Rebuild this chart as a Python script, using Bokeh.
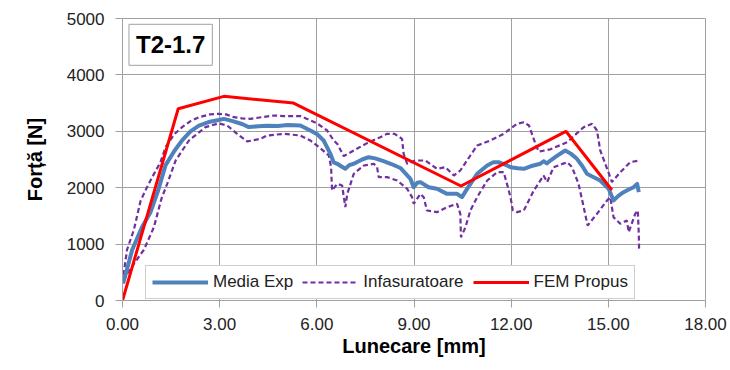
from bokeh.plotting import figure
from bokeh.models import (Range1d, FixedTicker, NumeralTickFormatter, Legend, LegendItem, Label)
from bokeh.embed import file_html
from bokeh.resources import INLINE

# ---- data ----
x_ticks = [0, 3, 6, 9, 12, 15, 18]
y_ticks = [0, 1000, 2000, 3000, 4000, 5000]

media_x = [0.02, 0.3, 0.6, 0.86, 1.1, 1.33, 1.6, 1.84, 2.1, 2.36, 2.7, 2.97, 3.13, 3.4, 3.69, 3.9, 4.2, 4.47, 4.8, 5.1,
           5.49, 5.8, 6.01, 6.21, 6.42, 6.52, 6.63, 6.75, 6.88, 7.0, 7.14, 7.4, 7.6, 7.8, 8.06, 8.3, 8.58, 8.89, 8.99, 9.1,
           9.2, 9.45, 9.71, 10.02, 10.33, 10.48, 10.64, 10.95, 11.26, 11.45, 11.61, 11.87, 11.98, 12.2, 12.39, 12.6, 12.9,
           13.0, 13.1, 13.21, 13.4, 13.67, 13.85, 14.03, 14.2, 14.34, 14.5, 14.75, 15.01, 15.16, 15.3, 15.47, 15.6, 15.78,
           15.89, 15.94]
media_y = [300, 900, 1300, 1560, 1950, 2400, 2650, 2840, 3000, 3100, 3170, 3200, 3220, 3180, 3130, 3075, 3090, 3100, 3095, 3110,
           3103, 3014, 2950, 2837, 2600, 2450, 2424, 2380, 2335, 2400, 2424, 2500, 2541, 2520, 2470, 2420, 2350, 2157, 2009, 2090,
           2098, 2009, 1980, 1891, 1891, 1832, 1980, 2246, 2394, 2450, 2453, 2394, 2364, 2345, 2335, 2380, 2424,
           2470, 2430, 2482, 2560, 2660, 2600, 2512, 2380, 2246, 2200, 2128, 1980, 1773, 1850, 1920, 1960, 2009,
           2068, 1920]

upper_x = [0.03, 0.14, 0.35, 0.56, 0.75, 0.92, 1.17, 1.33, 1.6, 1.84, 2.1, 2.36, 2.7, 2.97, 3.2, 3.44, 3.69, 3.95, 4.3, 4.67,
           4.98, 5.49, 5.7, 6.01, 6.32, 6.52, 6.63, 6.83, 7.14, 7.55, 7.96, 8.17, 8.4, 8.63, 8.68, 8.79, 9.04, 9.35, 9.71, 9.97,
           10.23, 10.43, 10.74, 10.95, 11.36, 11.77, 12.18, 12.39, 12.55, 12.75, 12.85, 13.21, 13.73, 14.0, 14.24, 14.5, 14.65,
           14.75, 14.96, 15.11, 15.37, 15.68, 15.94]
upper_y = [450, 900, 1250, 1770, 2000, 2190, 2450, 2719, 2950, 3073, 3180, 3250, 3300, 3310, 3300, 3250, 3230, 3221, 3250, 3280,
           3270, 3270, 3220, 3140, 3014, 2837, 2778, 2560, 2660, 2790, 2896, 2955, 2955, 2867, 2600, 2424, 2482, 2482, 2335, 2364,
           2216, 2305, 2571, 2748, 2837, 2955, 3133, 3161, 3103, 2778, 2640, 2680, 2807, 2950, 3073, 3133, 3014,
           2660, 2340, 2100, 2275, 2453, 2482]

lower_x = [0.05, 0.09, 0.35, 0.66, 0.97, 1.2, 1.38, 1.64, 2.05, 2.56, 2.97, 3.23, 3.54, 3.85, 4.26, 4.47, 4.98, 5.49, 5.8, 6.11,
           6.37, 6.44, 6.47, 6.63, 6.78, 6.88, 6.94, 7.14, 7.45, 7.76, 7.86, 7.91, 8.17, 8.48, 8.79, 8.94, 8.99, 9.2, 9.3, 9.4,
           9.71, 10.02, 10.33, 10.43, 10.45, 10.59, 10.74, 10.95, 11.26, 11.57, 11.77, 11.87, 11.98, 12.05, 12.18, 12.39, 12.7,
           13.0, 13.11, 13.31, 13.73, 13.88, 14.08, 14.24, 14.36, 14.65, 14.96, 15.06, 15.16, 15.37, 15.57, 15.63, 15.83, 15.91,
           15.94, 15.95]
lower_y = [350, 430, 650, 900, 1300, 1800, 2068, 2482, 2837, 3073, 3140, 3103, 2955, 2820, 2867, 2926, 2955, 2926, 2837, 2700,
           2571, 2364, 1950, 2068, 2039, 1655, 1891, 2246, 2394, 2424, 2364, 2187, 2187, 2128, 1980, 1832, 1714, 1891, 1832, 1596,
           1566, 1655, 1714, 1537, 1122, 1300, 1596, 1832, 2128, 2275, 2275, 2068, 1832, 1600, 1566, 1596, 1950,
           2216, 2098, 2364, 2453, 2364, 2068, 1655, 1330, 1537, 1773, 1832, 1477, 1360, 1418, 1211, 1537, 1596,
           1182, 887]

fem_x = [0.0, 1.72, 3.13, 5.28, 10.45, 13.69, 15.11]
fem_y = [0, 3400, 3620, 3500, 2030, 3000, 1960]

FONT = "Liberation Sans"

p = figure(width=730, height=370, output_backend="svg", toolbar_location=None,
           x_range=Range1d(0, 18), y_range=Range1d(0, 5000),
           min_border_left=122, min_border_right=25, min_border_top=18, min_border_bottom=70)
p.background_fill_color = "white"
p.border_fill_color = "white"
p.outline_line_color = "#a0a0a0"

for ax in (p.xaxis[0], p.yaxis[0]):
    ax.axis_line_color = "#a0a0a0"
    ax.major_tick_line_color = "#a0a0a0"
    ax.major_tick_in = 0
    ax.major_tick_out = 7
    ax.minor_tick_line_color = None
    ax.major_label_text_font = FONT
    ax.major_label_text_font_size = "17px"
    ax.major_label_text_color = "#222222"
    ax.axis_label_text_font = FONT
    ax.axis_label_text_font_style = "bold"
    ax.axis_label_text_font_size = "20px"
    ax.axis_label_text_color = "black"

p.xaxis.ticker = FixedTicker(ticks=x_ticks)
p.xaxis.formatter = NumeralTickFormatter(format="0.00")
p.xaxis.axis_label = "Lunecare [mm]"
p.xaxis.major_label_standoff = 10
p.xaxis.axis_label_standoff = 2

p.yaxis.ticker = FixedTicker(ticks=y_ticks)
p.yaxis.axis_label = "Forță [N]"
p.yaxis.major_label_standoff = 11
p.yaxis.axis_label_standoff = 18

p.xgrid.ticker = FixedTicker(ticks=x_ticks)
p.ygrid.ticker = FixedTicker(ticks=y_ticks)
p.grid.grid_line_color = "#a0a0a0"
p.grid.grid_line_width = 1

purple = "#7030a0"
r_up = p.line(upper_x, upper_y, line_color=purple, line_width=2.2, line_dash="5 3")
r_lo = p.line(lower_x, lower_y, line_color=purple, line_width=2.2, line_dash="5 3")
r_med = p.line(media_x, media_y, line_color="#4f81bd", line_width=4, line_join="round")
r_fem = p.line(fem_x, fem_y, line_color="#ff0000", line_width=3)

legend = Legend(items=[LegendItem(label="Media Exp", renderers=[r_med]),
                       LegendItem(label="Infasuratoare", renderers=[r_up]),
                       LegendItem(label="FEM Propus", renderers=[r_fem])],
                orientation="horizontal", location=(23, 1),
                border_line_color="#a0a0a0", background_fill_color="white", background_fill_alpha=1,
                glyph_width=56, glyph_height=20, label_height=20, label_standoff=5, spacing=9,
                padding=6, margin=0, label_text_font=FONT, label_text_font_size="17px",
                label_text_color="#222222")
p.add_layout(legend)

title = Label(x=0.2, y=4170, text="T2-1.7", text_font=FONT, text_font_size="24px", text_font_style="bold",
              text_color="black", text_align="left", text_baseline="bottom",
              border_line_color="#a0a0a0", background_fill_color="white", padding=7)
p.add_layout(title)

open("out.html", "w").write(file_html(p, INLINE))
